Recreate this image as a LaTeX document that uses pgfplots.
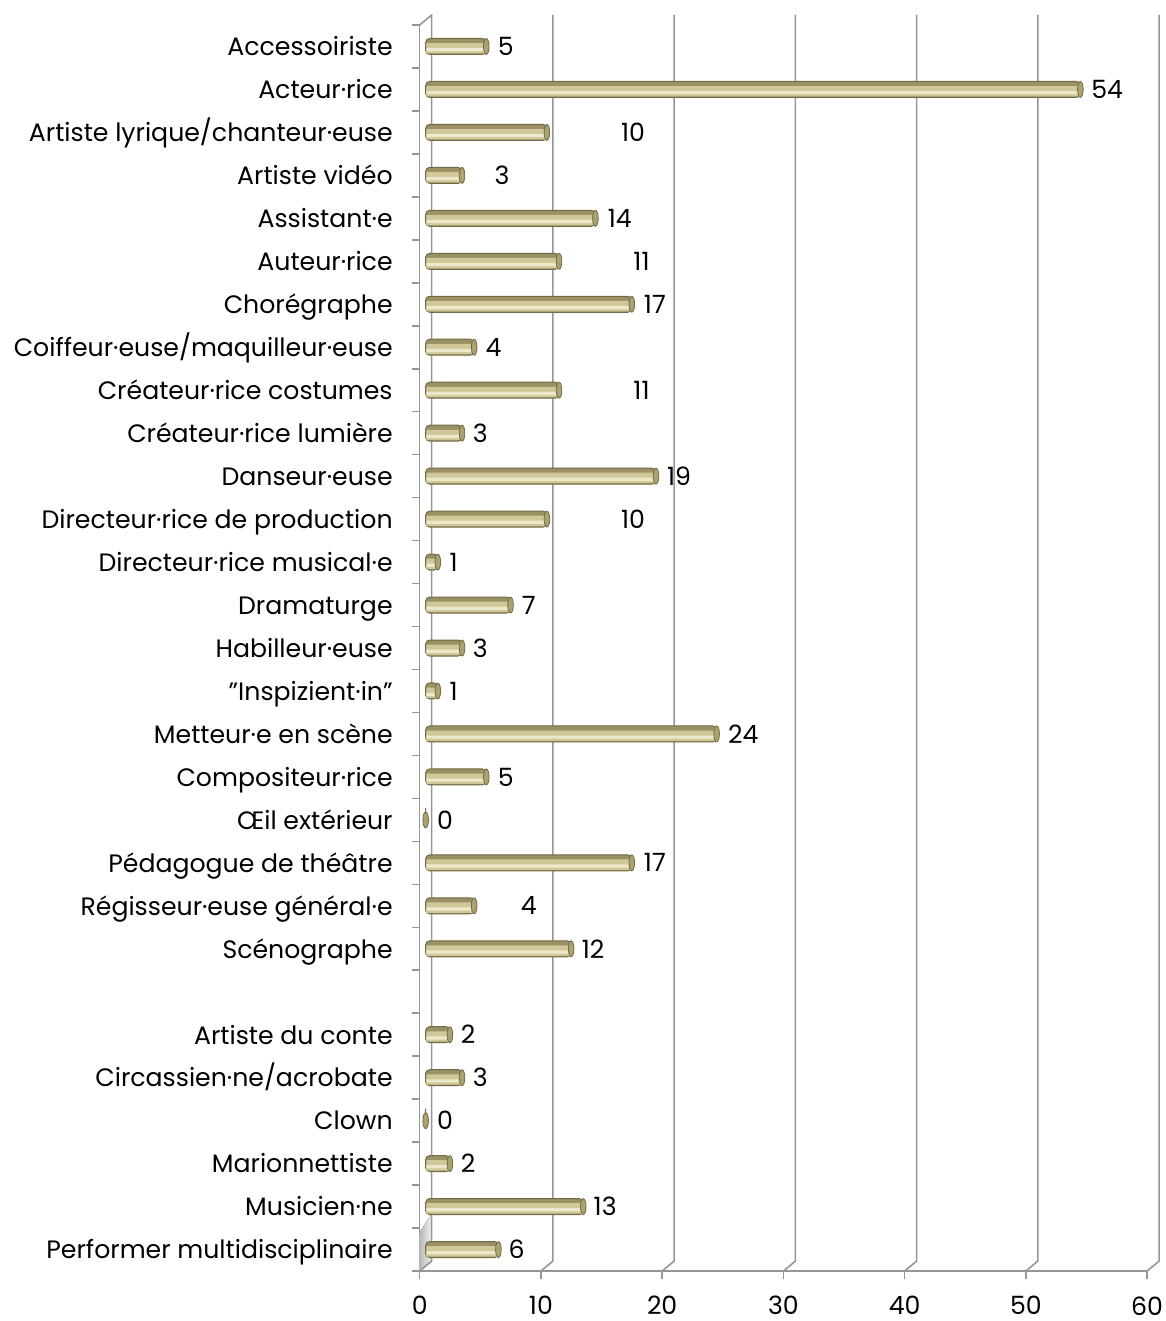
\documentclass[border=0pt]{standalone}
\usepackage{fontspec}
\setmainfont{Poppins}
\usepackage{pgfplots}
\usepackage{pgfplotstable}
\pgfplotsset{compat=1.18}
\definecolor{bartop}{RGB}{236,232,204}
\definecolor{barmid}{RGB}{208,200,152}
\definecolor{barbot}{RGB}{155,145,100}
\definecolor{bardark}{RGB}{115,105,70}
\definecolor{barcap}{RGB}{172,162,112}
\definecolor{gridc}{RGB}{150,150,150}
\pgfplotstableread{
row val lx
0 5 7.1
1 54 56.7
2 10 17.6
3 3 6.8
4 14 16.5
5 11 18.3
6 17 19.4
7 4 6.1
8 11 18.3
9 3 5.0
10 19 21.4
11 10 17.6
12 1 2.8
13 7 9.0
14 3 5.0
15 1 2.8
16 24 26.7
17 5 7.1
18 0 2.1
19 17 19.4
20 4 9.0
21 12 14.3
23 2 4.0
24 3 5.0
25 0 2.1
26 2 4.0
27 13 15.3
28 6 8.0
}\data
\newcommand{\lblfont}{\fontsize{12.6}{14}\selectfont}
\begin{document}
\begin{tikzpicture}
\begin{axis}[
  name=ax,
  scale only axis, width=364pt, height=623.5pt,
  xmin=0, xmax=60, ymin=-0.5, ymax=28.5, y dir=reverse,
  clip=false,
  axis x line*=bottom, axis y line*=left,
  axis line style={draw=gridc, line width=0.8pt},
  xtick={0,10,...,60}, tick align=outside, major tick length=4pt,
  x tick style={draw=gridc, line width=0.8pt},
  xticklabel style={yshift=-7.5pt, inner sep=1pt},
  ytick={0,...,28},
  y tick style={draw=none},
  yticklabel style={xshift=-6pt, yshift=-1.5pt, text height=1.6ex, text depth=0.45ex},
  yticklabels={{Accessoiriste},{Acteur·rice},{Artiste lyrique/chanteur·euse},{Artiste vidéo},{Assistant·e},{Auteur·rice},{Chorégraphe},{Coiffeur·euse/maquilleur·euse},{Créateur·rice costumes},{Créateur·rice lumière},{Danseur·euse},{Directeur·rice de production},{Directeur·rice musical·e},{Dramaturge},{Habilleur·euse},{"Inspizient·in"},{Metteur·e en scène},{Compositeur·rice},{Œil extérieur},{Pédagogue de théâtre},{Régisseur·euse général·e},{Scénographe},{},{Artiste du conte},{Circassien·ne/acrobate},{Clown},{Marionnettiste},{Musicien·ne},{Performer multidisciplinaire}},
  /pgf/number format/assume math mode=true,
  ticklabel style={font=\lblfont},
]
% left wall shading near bottom
\fill[left color=gray!55, right color=gray!10] (axis cs:0,28.5) -- ([shift={(6pt,5pt)}]axis cs:0,28.5) -- ([shift={(6pt,5pt)}]axis cs:0,27.4) -- (axis cs:0,27.6) -- cycle;
% back wall and gridlines
\draw[gridc, line width=0.8pt] (axis cs:0,-0.5) -- ([shift={(6pt,5pt)}]axis cs:0,-0.5) -- ([shift={(6pt,5pt)}]axis cs:0,28.5) -- (axis cs:0,28.5);
\pgfplotsinvokeforeach{10,20,30,40,50,60}{
  \draw[gridc, line width=0.8pt] ([shift={(6pt,5pt)}]axis cs:#1,-0.5) -- ([shift={(6pt,5pt)}]axis cs:#1,28.5) -- (axis cs:#1,28.5);
}
% boundary ticks on the y axis
\pgfplotsinvokeforeach{-0.5,0.5,...,28.5}{
  \draw[gridc, line width=0.8pt] ([xshift=-4pt]axis cs:0,#1) -- (axis cs:0,#1);
}
% bars: layered to imitate cylinders
\addplot[xbar, bar width=8pt, xshift=3pt, draw=bardark, line width=0.5pt,
  fill=barbot, rounded corners=2pt]
  table[x=val, y=row]{\data};
\addplot[xbar, bar width=5.2pt, bar shift=-0.9pt, xshift=3.3pt, draw=none, fill=barmid]
  table[x=val, y=row]{\data};
\addplot[xbar, bar width=1.6pt, bar shift=-1.6pt, xshift=3.3pt, draw=none, fill=bartop]
  table[x=val, y=row]{\data};
\addplot[only marks, xshift=3pt, mark=*, mark size=4pt,
  mark options={xscale=0.35, fill=barcap, draw=bardark, line width=0.4pt}]
  table[x=val, y=row]{\data};
\addplot[draw=none, mark=none, nodes near coords, point meta=explicit symbolic,
  every node near coord/.append style={anchor=center, inner sep=0pt, font=\lblfont, text=black}]
  table[x=lx, y=row, meta=val]{\data};
\end{axis}
\pgfresetboundingbox
\path ([shift={(-210pt,-25pt)}]ax.south west) rectangle ([shift={(9pt,12.5pt)}]ax.north east);
\end{tikzpicture}
\end{document}
